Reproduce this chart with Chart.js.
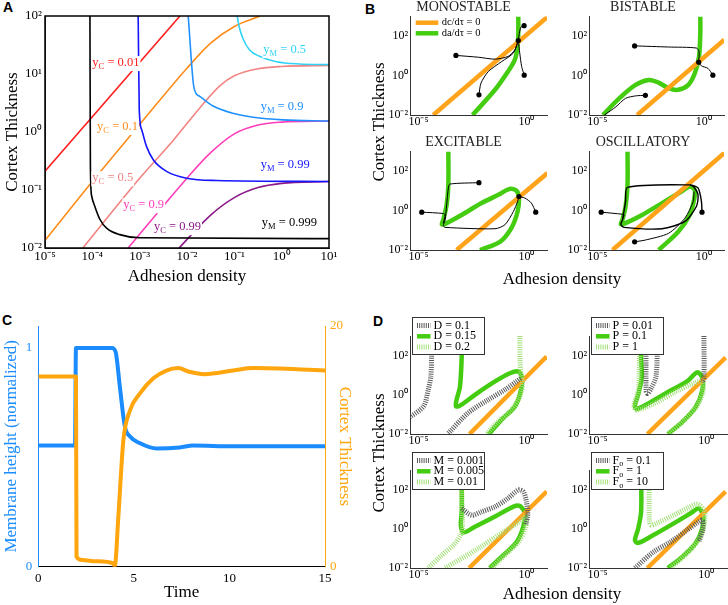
<!doctype html>
<html>

<head>
    <meta charset="utf-8">
    <title>Cortex thickness vs adhesion density</title>
    <script src="https://cdn.jsdelivr.net/npm/chart.js"></script>
    <style>
        body {
            margin: 0;
            background: #fff;
            font-family: "Liberation Serif", "Times New Roman", serif
        }

        #fig {
            position: relative;
            width: 728px;
            height: 605px;
            overflow: hidden
        }

        #fig canvas {
            position: absolute
        }

        .tag {
            position: absolute;
            font: bold 14px "Liberation Sans", Arial, sans-serif;
            line-height: 1
        }

        .axt {
            position: absolute;
            font-size: 17px;
            white-space: nowrap;
            line-height: 1
        }
    </style>
</head>

<body>
    <div id="fig">
        <div class="tag" style="left:3px;top:0px">A</div>
        <div class="tag" style="left:365px;top:2px">B</div>
        <div class="tag" style="left:2px;top:313px">C</div>
        <div class="tag" style="left:373px;top:314px">D</div>

        <canvas id="chartA" width="340" height="290" style="left:0;top:0"></canvas>
        <canvas id="bMono" width="176" height="135" style="left:380px;top:0"></canvas>
        <canvas id="bBi" width="169" height="135" style="left:559px;top:0"></canvas>
        <canvas id="bEx" width="176" height="135" style="left:380px;top:135px"></canvas>
        <canvas id="bOsc" width="169" height="135" style="left:559px;top:135px"></canvas>
        <canvas id="chartC" width="364" height="305" style="left:0;top:300px"></canvas>
        <canvas id="dD" width="176" height="144" style="left:380px;top:310px"></canvas>
        <canvas id="dP" width="169" height="144" style="left:559px;top:310px"></canvas>
        <canvas id="dM" width="176" height="143" style="left:380px;top:445px"></canvas>
        <canvas id="dF" width="169" height="143" style="left:559px;top:445px"></canvas>

        <div class="axt" style="left:378px;top:122px;transform:translate(-50%,-50%) rotate(-90deg)">Cortex Thickness</div>
        <div class="axt" style="left:562px;top:278px;transform:translate(-50%,-50%)">Adhesion density</div>
        <div class="axt" style="left:378px;top:453px;transform:translate(-50%,-50%) rotate(-90deg)">Cortex Thickness</div>
        <div class="axt" style="left:562px;top:593px;transform:translate(-50%,-50%)">Adhesion density</div>
    </div>

    <script>
        const SERIF = '"Liberation Serif", "Times New Roman", serif'

        // ---------- panel A : nullclines ----------
        const aXTicks = [1e-5, 1e-4, 1e-3, 1e-2, 1e-1, 1, 10]
        const aYTicks = [1e-2, 1e-1, 1, 10, 100]

        const yC001 = [[1e-5, 0.21], [7.1e-3, 100]]
        const yC01 = [[1e-5, 0.0135], [1e-4, 0.14], [1e-3, 1.35], [0.01, 12.6], [0.0316, 34], [0.1, 66], [0.35, 100]]
        const yC05 = [[6.3e-5, 0.01], [1e-3, 0.16], [5e-3, 0.7], [0.0186, 2.6], [0.05, 6.3], [0.1, 9.3], [0.316, 12.3], [1, 13.5], [10, 14.1]]
        const yC09 = [[5.7e-4, 0.01], [0.01, 0.16], [0.0316, 0.44], [0.1, 0.93], [0.316, 1.32], [1, 1.48], [10, 1.55]]
        const yC099 = [[6.8e-3, 0.01], [0.0316, 0.037], [0.1, 0.074], [0.316, 0.11], [1, 0.13], [10, 0.14]]

        const yM05 = [[0.115, 100], [0.126, 66], [0.152, 41], [0.21, 26], [0.35, 20], [0.78, 16.3], [2.4, 14.9], [10, 14.5]]
        const yM09 = [[0.0106, 100], [0.0141, 5.7], [0.0186, 4.1], [0.0355, 2.8], [0.093, 2.1], [0.25, 1.8], [1.07, 1.62], [10, 1.55]]
        const yM099 = [[9.3e-4, 100], [9.8e-4, 2.4], [1.1e-3, 1.1], [1.4e-3, 0.56], [1.95e-3, 0.33], [3.7e-3, 0.21], [9.8e-3, 0.16], [0.042, 0.146], [10, 0.14]]
        const yM0999 = [[8.9e-5, 100], [9.1e-5, 0.26], [9.7e-5, 0.078], [1.13e-4, 0.052], [1.45e-4, 0.031], [2e-4, 0.022], [3.8e-4, 0.017], [1e-3, 0.015], [10, 0.0145]]

        // curve labels, anchored in data coordinates (left edge, middle)
        const aLabels = [
            { x: 1e-4, y: 15.5, sub: 'C', text: ' = 0.01', color: '#ff1f1f' },
            { x: 1.26e-4, y: 1.23, sub: 'C', text: ' = 0.1', color: '#ff8c1a' },
            { x: 1e-4, y: 0.16, sub: 'C', text: ' = 0.5', color: '#f28482' },
            { x: 4.5e-4, y: 0.055, sub: 'C', text: ' = 0.9', color: '#ff3dbb' },
            { x: 2e-3, y: 0.023, sub: 'C', text: ' = 0.99', color: '#8b1a89' },
            { x: 0.41, y: 26, sub: 'M', text: ' = 0.5', color: '#2fd3f5' },
            { x: 0.36, y: 2.7, sub: 'M', text: ' = 0.9', color: '#1e90ff' },
            { x: 0.36, y: 0.27, sub: 'M', text: ' = 0.99', color: '#1515ff' },
            { x: 0.38, y: 0.027, sub: 'M', text: ' = 0.999', color: '#000' }
        ]

        // ---------- panel B : phase portraits ----------
        const phX = [4e-6, 9]
        const phY = [0.01, 1000]
        const phXTicks = [1e-5, 1]
        const phYTicks = [1e-2, 1, 100]

        const monoC = [[4.8e-5, 0.01], [10, 1000]]
        const monoA = [[3.2e-3, 0.01], [0.035, 0.19], [0.14, 1.6], [0.29, 6.3], [0.39, 30], [0.42, 140], [0.42, 1000]]
        const monoTraj1 = [[5.4e-4, 10.5], [5.9e-3, 8.5], [0.035, 6.8], [0.14, 9.3], [0.29, 20], [0.42, 60]]
        const monoTraj2 = [[6.3e-3, 0.105], [7.8e-3, 0.41], [0.017, 1.6], [0.071, 5.1], [0.25, 14], [0.42, 60]]
        const monoTraj3 = [[0.79, 1.05], [0.6, 2.9], [0.49, 14], [0.42, 60]]
        const monoTraj4 = [[0.78, 340], [0.56, 290], [0.47, 140], [0.42, 60]]
        const monoDots = [[5.4e-4, 10.5], [6.3e-3, 0.105], [0.79, 1.05], [0.78, 340], [0.42, 60]]

        const biC = [[7.4e-4, 0.01], [9.3, 65]]
        const biA = [[1.8e-5, 0.01], [1.05e-4, 0.07], [6.2e-4, 0.34], [2.6e-3, 0.6], [7.5e-3, 0.44], [0.022, 0.23], [0.063, 0.19], [0.19, 0.34], [0.38, 1.3], [0.6, 9.3], [0.69, 140], [0.69, 1000]]
        const biTraj1 = [[5.6e-4, 32], [0.022, 28], [0.45, 25], [0.6, 17], [0.58, 4.8]]
        const biTraj2 = [[2.7, 1.05], [1.6, 2.3], [0.78, 3.1], [0.58, 4.8]]
        const biTraj3 = [[1.8e-3, 0.1], [6.2e-4, 0.093], [2.1e-4, 0.07], [7.4e-5, 0.026], [2.1e-5, 0.01]]
        const biDots = [[5.6e-4, 32], [2.7, 1.05], [1.8e-3, 0.1], [0.58, 4.8]]

        const exC = [[5.8e-4, 0.01], [9.5, 80]]
        const exA = [[2.4e-4, 1000], [2.4e-4, 20], [2e-4, 1.95], [1.4e-4, 0.34], [1.2e-4, 0.2], [2e-4, 0.23], [1e-3, 0.6], [8.3e-3, 2.4], [0.05, 6.3], [0.17, 12.6], [0.35, 10], [0.45, 4.2], [0.39, 0.9], [0.2, 0.13], [0.059, 0.026], [7e-3, 0.01]]
        const exTraj1 = [[6.3e-3, 26], [2.8e-4, 22], [2.4e-4, 14], [2e-4, 1.95], [1.7e-4, 0.34], [1.4e-4, 0.17], [1.7e-4, 0.14], [0.035, 0.12], [0.1, 0.19], [0.25, 0.9], [0.39, 2.9], [0.45, 5.1]]
        const exTraj2 = [[1.4e-5, 0.83], [1.4e-4, 0.71], [1.7e-4, 0.6], [1.4e-4, 0.23]]
        const exTraj3 = [[2.7, 0.83], [1.7, 2.4], [0.85, 4.3], [0.45, 5.1]]
        const exDots = [[6.3e-3, 26], [1.4e-5, 0.83], [2.7, 0.83], [0.45, 5.1]]

        const osC = [[5.1e-5, 0.01], [9.3, 840]]
        const osA = [[2.6e-4, 1000], [2.6e-4, 20], [2.1e-4, 1.6], [1.5e-4, 0.34], [1.26e-4, 0.2], [2.1e-4, 0.23], [1.26e-3, 0.6], [0.011, 2.4], [0.09, 9.3], [0.22, 16.6], [0.38, 11], [0.35, 3.5], [0.22, 0.6], [0.063, 0.085], [7.6e-3, 0.01]]
        const osTraj1 = [[0.83, 0.83], [0.78, 2.9], [0.54, 14], [0.22, 20], [2.6e-4, 15], [2.1e-4, 2.9], [1.5e-4, 0.34], [1.26e-4, 0.2], [1.8e-4, 0.14], [0.011, 0.12], [0.13, 0.28], [0.45, 1.6], [0.54, 6.3], [0.32, 17], [0.22, 20]]
        const osTraj2 = [[1.5e-5, 0.83], [1.5e-4, 0.65], [1.8e-4, 0.6], [1.5e-4, 0.34]]
        const osTraj3 = [[5.6e-4, 0.026], [1.8e-3, 0.032], [0.022, 0.07], [0.13, 0.41], [0.32, 2.9], [0.35, 9.3]]
        const osDots = [[0.83, 0.83], [1.5e-5, 0.83], [5.6e-4, 0.026]]

        // ---------- panel C : time course ----------
        const cTimeTicks = [0, 5, 10, 15]
        const cMemTicks = [0, 0.5, 1]
        const cMemLabels = ['0', '', '1']
        const cCorTicks = [0, 10, 20]
        const cCorLabels = ['0', '', '20']
        const cMembrane = [[0, 0.554], [1.92, 0.554], [1.97, 1.0], [3.85, 1.0], [4.05, 0.98], [4.27, 0.82], [4.53, 0.64], [4.8, 0.595], [5.3, 0.565], [6.2, 0.54], [7.4, 0.545], [8.1, 0.554], [10.2, 0.55], [15, 0.55]]
        const cCortex = [[0, 15.8], [1.97, 15.8], [2.0, 0.83], [2.3, 0.55], [3.0, 0.45], [3.92, 0.28], [4.0, 0.05], [4.19, 4.2], [4.45, 10.5], [4.8, 13.0], [5.32, 14.4], [6.02, 15.65], [6.7, 16.3], [7.33, 16.5], [7.9, 16.2], [8.7, 16.0], [10.2, 16.3], [11.25, 16.5], [15, 16.3]]

        // ---------- panel D : parameter sweeps ----------
        const dLabels = ['D = 0.1', 'D = 0.15', 'D = 0.2']
        const dC = [[2.3e-3, 0.01], [8.7, 90]]
        const dLowA = [[4e-5, 1000], [4e-5, 107], [3.7e-5, 8.5], [2.8e-5, 1.8], [1.7e-5, 0.26], [4e-6, 0.073]]
        const dLowB = [[2.4e-4, 0.011], [2e-3, 0.12], [0.017, 0.56], [0.1, 1.8], [0.35, 4.8], [0.56, 7.1]]
        const dMid = [[1e-3, 1000], [1e-3, 90], [8.3e-4, 2.6], [5.8e-4, 0.56], [5.4e-4, 0.26], [8.3e-4, 0.28], [4.1e-3, 1.0], [0.035, 4.8], [0.17, 12.6], [0.42, 15.5], [0.6, 8.5], [0.56, 1.8], [0.3, 0.26], [0.071, 0.054], [0.018, 0.01]]
        const dHigh = [[0.5, 1000], [0.5, 60], [0.56, 12.6], [0.66, 4.8], [0.5, 0.83], [0.17, 0.14], [0.05, 0.044], [0.014, 0.01]]

        const pLabels = ['P = 0.01', 'P = 0.1', 'P = 1']
        const pC = [[1.95e-3, 0.01], [7.8, 80]]
        const pLowA = [[1.7e-3, 1000], [1.7e-3, 1.6], [1.95e-3, 1.17], [2.8e-3, 1.95], [4.9e-3, 9.3], [5.6e-3, 1000]]
        const pLowB = [[0.78, 1000], [0.78, 7.6], [0.65, 4.3]]
        const pMid = [[1e-3, 1000], [1e-3, 80], [1.07e-3, 7.6], [7.4e-4, 1.07], [5.2e-4, 0.28], [6.3e-4, 0.19], [2.6e-3, 0.41], [0.022, 1.6], [0.13, 4.8], [0.38, 14], [0.65, 7.6], [0.65, 1.6], [0.32, 0.23], [0.076, 0.039], [0.017, 0.01]]
        const pHigh = [[8.3e-4, 1000], [8.3e-4, 80], [7.4e-4, 1.6], [4.7e-4, 0.28], [6.3e-4, 0.17], [3.7e-3, 0.34], [0.045, 1.6], [0.26, 3.8], [0.65, 4.8], [0.72, 1.6], [0.38, 0.28], [0.09, 0.048], [0.018, 0.01]]

        const mLabels = ['M = 0.001', 'M = 0.005', 'M = 0.01']
        const mC = [[2.2e-3, 0.01], [8.7, 80]]
        const mLow = [[1e-3, 11], [2.9e-3, 5], [8.3e-3, 7.4], [0.035, 13.5], [0.14, 36], [0.42, 95], [0.71, 80], [1.0, 24], [1.15, 5], [0.91, 1.55]]
        const mMid = [[1e-3, 1000], [1e-3, 7.4], [9.1e-4, 1.55], [1.2e-3, 0.65], [4.1e-3, 1.26], [0.035, 4.2], [0.25, 13.5], [0.5, 14.5], [0.85, 6.2], [0.71, 1.26], [0.35, 0.21], [0.085, 0.045], [0.02, 0.01]]
        const mHighA = [[2.8e-5, 0.01], [1.2e-4, 0.045], [4.9e-4, 0.18], [1e-3, 0.65], [1.1e-3, 1.55], [1e-3, 80], [1e-3, 1000]]
        const mHighB = [[1.7e-4, 0.01], [5.9e-3, 0.1], [0.1, 0.76], [0.6, 2.75], [0.95, 4.7], [0.93, 1.26], [0.42, 0.21], [0.1, 0.045], [0.025, 0.01]]

        const fValues = ['0.1', '1', '10']
        const fC = [[1.95e-3, 0.01], [7.8, 80]]
        const fLow = [[5.2e-4, 0.01], [3.7e-3, 0.066], [0.022, 0.21], [0.13, 0.85], [0.45, 2.3], [0.65, 2.75], [0.71, 1.05], [0.45, 0.21]]
        const fMid = [[1e-3, 1000], [1e-3, 7.4], [7.4e-4, 1.05], [5.2e-4, 0.26], [7.4e-4, 0.19], [3.7e-3, 0.48], [0.032, 1.9], [0.19, 6.2], [0.45, 11], [0.71, 5], [0.65, 1.05], [0.32, 0.18], [0.076, 0.036], [0.017, 0.01]]
        const fHigh = [[2.4e-3, 1000], [2.4e-3, 2.75], [2.8e-3, 1.55], [5.2e-3, 1.9], [0.032, 5], [0.13, 11], [0.38, 18], [0.78, 9.1], [0.83, 2.3], [0.54, 0.39], [0.13, 0.055], [0.022, 0.01]]

        // ---------- styles ----------
        const ORANGE = '#ffa31a'
        const GREEN = '#44cc11'
        const GRAY = '#5a5a5a'
        const LIGHT = '#a3df78'
        const BLUE_C = '#1a8cff'
        const ORANGE_C = '#ffa50d'
        const HATCH = [1, 1.2]

        Chart.defaults.font.family = SERIF
        Chart.defaults.color = '#000'
        Chart.defaults.animation = false
        Chart.defaults.events = []
        Chart.defaults.plugins.legend.display = false
        Chart.defaults.plugins.tooltip.enabled = false

        const SUP = { '-': '⁻', '0': '⁰', '1': '¹', '2': '²', '3': '³', '4': '⁴', '5': '⁵', '6': '⁶', '7': '⁷', '8': '⁸', '9': '⁹' }
        const pow10 = v => '10' + String(Math.round(Math.log10(v))).split('').map(c => SUP[c]).join('')

        function drawRich(ctx, x, y, parts, size, color, bg) {
            ctx.save()
            ctx.textBaseline = 'middle'
            ctx.textAlign = 'left'
            let w = 0
            parts.forEach(p => {
                ctx.font = (p.sub ? size * 0.68 : size) + 'px ' + SERIF
                w += ctx.measureText(p.t).width
            })
            if (bg) {
                ctx.fillStyle = bg
                ctx.fillRect(x - 1, y - size * 0.55, w + 2, size * 1.2)
            }
            ctx.fillStyle = color
            parts.forEach(p => {
                const s = p.sub ? size * 0.68 : size
                ctx.font = s + 'px ' + SERIF
                ctx.fillText(p.t, x, y + (p.sub ? size * 0.3 : 0))
                x += ctx.measureText(p.t).width
            })
            ctx.restore()
        }

        const pts = arr => arr.map(p => ({ x: p[0], y: p[1] }))

        function curve(arr, color, width, extra) {
            return Object.assign({
                data: pts(arr), showLine: true, pointRadius: 0, borderColor: color, borderWidth: width,
                borderCapStyle: 'butt', borderJoinStyle: 'round', tension: 0.3
            }, extra)
        }

        function dots(arr) {
            return { data: pts(arr), showLine: false, pointRadius: 2.6, pointBackgroundColor: '#000', pointBorderWidth: 0 }
        }

        function logAxis(range, ticks, size, fit, pad) {
            return {
                type: 'logarithmic', min: range[0], max: range[1],
                afterBuildTicks: s => { s.ticks = ticks.map(v => ({ value: v })) },
                afterFit: fit,
                ticks: { callback: v => pow10(v), autoSkip: false, maxRotation: 0, padding: pad, font: { size: size } },
                grid: { display: false, drawTicks: false },
                border: { display: true, color: '#333', width: 1 }
            }
        }

        const frame = {
            id: 'frame',
            afterDraw(chart) {
                const a = chart.chartArea, ctx = chart.ctx
                ctx.save()
                ctx.strokeStyle = '#000'
                ctx.lineWidth = 1.5
                ctx.strokeRect(a.left, a.top, a.right - a.left, a.bottom - a.top)
                ctx.restore()
            }
        }

        const curveLabels = {
            id: 'curveLabels',
            afterDatasetsDraw(chart, args, o) {
                const sx = chart.scales.x, sy = chart.scales.y
                o.items.forEach(l => drawRich(chart.ctx, sx.getPixelForValue(l.x), sy.getPixelForValue(l.y),
                    [{ t: 'y' }, { t: l.sub, sub: true }, { t: l.text }], 12.5, l.color, '#fff'))
            }
        }

        const miniLegend = {
            id: 'miniLegend',
            afterDraw(chart, args, o) {
                if (!o.items) return
                const ctx = chart.ctx
                const bx = chart.chartArea.left + o.dx, by = o.top
                if (o.box) {
                    ctx.save()
                    ctx.fillStyle = '#fff'
                    ctx.fillRect(bx, by, o.w, o.h)
                    ctx.strokeStyle = '#333'
                    ctx.lineWidth = 1
                    ctx.strokeRect(bx + 0.5, by + 0.5, o.w, o.h)
                    ctx.restore()
                }
                o.items.forEach((it, i) => {
                    const yy = by + o.row0 + i * o.step
                    ctx.save()
                    ctx.strokeStyle = it.color
                    ctx.lineWidth = it.width
                    ctx.setLineDash(it.dash || [])
                    ctx.beginPath()
                    ctx.moveTo(bx + o.s0, yy)
                    ctx.lineTo(bx + o.s1, yy)
                    ctx.stroke()
                    ctx.restore()
                    drawRich(ctx, bx + o.tx, yy, it.parts, o.size, '#000')
                })
            }
        }

        // ---------- chart A ----------
        new Chart(document.getElementById('chartA'), {
            type: 'scatter',
            data: {
                datasets: [
                    curve(yM0999, '#000', 1.6, { tension: 0, cubicInterpolationMode: 'monotone' }),
                    curve(yM099, '#1515ff', 1.6, { tension: 0, cubicInterpolationMode: 'monotone' }),
                    curve(yM09, '#1e90ff', 1.6, { tension: 0, cubicInterpolationMode: 'monotone' }),
                    curve(yM05, '#2fd3f5', 1.6, { tension: 0, cubicInterpolationMode: 'monotone' }),
                    curve(yC099, '#8b1a89', 1.6, { tension: 0, cubicInterpolationMode: 'monotone' }),
                    curve(yC09, '#ff3dbb', 1.6, { tension: 0, cubicInterpolationMode: 'monotone' }),
                    curve(yC05, '#f28482', 1.6, { tension: 0, cubicInterpolationMode: 'monotone' }),
                    curve(yC01, '#ff8c1a', 1.6, { tension: 0, cubicInterpolationMode: 'monotone' }),
                    curve(yC001, '#ff1f1f', 1.6, { tension: 0 })
                ]
            },
            options: {
                responsive: false, devicePixelRatio: 1,
                layout: { padding: { top: 16, right: 11, left: 0, bottom: 0 } },
                scales: {
                    x: Object.assign(logAxis([1e-5, 10], aXTicks, 13, s => { s.height = 42 }, 1), {
                        title: { display: true, text: 'Adhesion density', font: { size: 17 }, padding: { top: 0, bottom: 3 } }
                    }),
                    y: Object.assign(logAxis([0.01, 100], aYTicks, 13, s => { s.width = 45 }, 3), {
                        title: { display: true, text: 'Cortex Thickness', font: { size: 17 }, padding: { top: 2, bottom: 0 } }
                    })
                },
                plugins: { curveLabels: { items: aLabels } }
            },
            plugins: [curveLabels, frame]
        })

        // ---------- charts B and D ----------
        function phase(id, o) {
            return new Chart(document.getElementById(id), {
                type: 'scatter',
                data: { datasets: o.datasets },
                options: {
                    responsive: false, devicePixelRatio: 1,
                    layout: { padding: o.pad },
                    scales: {
                        x: logAxis(phX, phXTicks, 12, s => { s.height = 20 }, 0),
                        y: logAxis(phY, phYTicks, 12, s => { s.width = 30 }, 2)
                    },
                    plugins: {
                        title: o.title
                            ? { display: true, text: o.title, color: '#222', font: { size: 14, weight: 'normal', lineHeight: 1.1 }, padding: { top: 0, bottom: 1 } }
                            : { display: false },
                        miniLegend: o.legend || {}
                    }
                },
                plugins: [miniLegend]
            })
        }

        const trajSet = (list) => list.map(t => curve(t, '#000', 1, { tension: 0.25 }))

        phase('bMono', {
            title: 'MONOSTABLE', pad: { left: 0, right: 9, top: 0, bottom: 0 },
            datasets: [dots(monoDots), ...trajSet([monoTraj1, monoTraj2, monoTraj3, monoTraj4]),
            curve(monoC, ORANGE, 4.5, { tension: 0 }), curve(monoA, GREEN, 4.5)],
            legend: {
                dx: 5.7, top: 22.7, row0: 0, step: 10.6, s0: 0, s1: 22.6, tx: 26, size: 10.5,
                items: [
                    { parts: [{ t: 'dc/dτ = 0' }], color: ORANGE, width: 4.5 },
                    { parts: [{ t: 'da/dτ = 0' }], color: GREEN, width: 4.5 }
                ]
            }
        })
        phase('bBi', {
            title: 'BISTABLE', pad: { left: 0, right: 1, top: 0, bottom: 0 },
            datasets: [dots(biDots), ...trajSet([biTraj1, biTraj2, biTraj3]),
            curve(biC, ORANGE, 4.5, { tension: 0 }), curve(biA, GREEN, 4.5)]
        })
        phase('bEx', {
            title: 'EXCITABLE', pad: { left: 0, right: 9, top: 0, bottom: 0 },
            datasets: [dots(exDots), ...trajSet([exTraj1, exTraj2, exTraj3]),
            curve(exC, ORANGE, 4.5, { tension: 0 }), curve(exA, GREEN, 4.5)]
        })
        phase('bOsc', {
            title: 'OSCILLATORY', pad: { left: 0, right: 1, top: 0, bottom: 0 },
            datasets: [dots(osDots), curve(osTraj1, '#000', 1.4, { tension: 0.25 }), ...trajSet([osTraj2, osTraj3]),
            curve(osC, ORANGE, 4.5, { tension: 0 }), curve(osA, GREEN, 4.5)]
        })

        function sweepLegend(names) {
            return {
                box: true, dx: 2, top: 7, w: 72, h: 37, row0: 8.5, step: 10.8, s0: 5, s1: 18.5, tx: 21.5, size: 12,
                items: [
                    { parts: names[0], color: GRAY, width: 5, dash: HATCH },
                    { parts: names[1], color: GREEN, width: 4.5 },
                    { parts: names[2], color: LIGHT, width: 5, dash: HATCH }
                ]
            }
        }
        const plain = arr => arr.map(t => [{ t: t }])
        const hatched = (arr, color) => curve(arr, color, 5, { borderDash: HATCH })

        phase('dD', {
            pad: { left: 0, right: 9, top: 26, bottom: 0 },
            datasets: [hatched(dLowA, GRAY), hatched(dLowB, GRAY), hatched(dHigh, LIGHT),
            curve(dC, ORANGE, 4.5, { tension: 0 }), curve(dMid, GREEN, 4.5)],
            legend: sweepLegend(plain(dLabels))
        })
        phase('dP', {
            pad: { left: 0, right: 1, top: 26, bottom: 0 },
            datasets: [hatched(pLowA, GRAY), hatched(pLowB, GRAY), hatched(pHigh, LIGHT),
            curve(pC, ORANGE, 4.5, { tension: 0 }), curve(pMid, GREEN, 4.5)],
            legend: sweepLegend(plain(pLabels))
        })
        phase('dM', {
            pad: { left: 0, right: 9, top: 25, bottom: 0 },
            datasets: [hatched(mLow, GRAY), hatched(mHighA, LIGHT), hatched(mHighB, LIGHT),
            curve(mC, ORANGE, 4.5, { tension: 0 }), curve(mMid, GREEN, 4.5)],
            legend: sweepLegend(plain(mLabels))
        })
        phase('dF', {
            pad: { left: 0, right: 1, top: 25, bottom: 0 },
            datasets: [hatched(fLow, GRAY), hatched(fHigh, LIGHT),
            curve(fC, ORANGE, 4.5, { tension: 0 }), curve(fMid, GREEN, 4.5)],
            legend: sweepLegend(fValues.map(v => [{ t: 'F' }, { t: 'o', sub: true }, { t: ' = ' + v }]))
        })

        // ---------- chart C ----------
        new Chart(document.getElementById('chartC'), {
            type: 'scatter',
            data: {
                datasets: [
                    curve(cCortex, ORANGE_C, 4, { yAxisID: 'y2', tension: 0, cubicInterpolationMode: 'monotone' }),
                    curve(cMembrane, BLUE_C, 4, { yAxisID: 'y', tension: 0, cubicInterpolationMode: 'monotone' })
                ]
            },
            options: {
                responsive: false, devicePixelRatio: 1,
                layout: { padding: { top: 26, left: 0, right: 0, bottom: 0 } },
                scales: {
                    x: {
                        type: 'linear', min: 0, max: 15,
                        afterBuildTicks: s => { s.ticks = cTimeTicks.map(v => ({ value: v })) },
                        afterFit: s => { s.height = 38.3 },
                        ticks: { padding: 4, font: { size: 13 }, maxRotation: 0 },
                        grid: { display: false, drawTicks: false },
                        border: { color: '#000', width: 1 },
                        title: { display: true, text: 'Time', font: { size: 17 }, padding: { top: 0, bottom: 2 } }
                    },
                    y: {
                        position: 'left', min: 0, max: 1.1,
                        afterBuildTicks: s => { s.ticks = cMemTicks.map(v => ({ value: v })) },
                        afterFit: s => { s.width = 38.3 },
                        ticks: { padding: 6, color: BLUE_C, font: { size: 13 }, callback: (v, i) => cMemLabels[i] },
                        grid: { display: false, drawTicks: false },
                        border: { color: BLUE_C, width: 1 },
                        title: { display: true, text: 'Membrane height (normalized)', color: BLUE_C, font: { size: 17 }, padding: { top: 1, bottom: 0 } }
                    },
                    y2: {
                        position: 'right', min: 0, max: 20,
                        afterBuildTicks: s => { s.ticks = cCorTicks.map(v => ({ value: v })) },
                        afterFit: s => { s.width = 39 },
                        ticks: { padding: 5, color: ORANGE_C, font: { size: 13 }, callback: (v, i) => cCorLabels[i] },
                        grid: { display: false, drawTicks: false },
                        border: { color: ORANGE_C, width: 1 },
                        title: { display: true, text: 'Cortex Thickness', color: ORANGE_C, font: { size: 17 }, padding: { top: 9, bottom: 0 } }
                    }
                }
            }
        })
    </script>
</body>

</html>
